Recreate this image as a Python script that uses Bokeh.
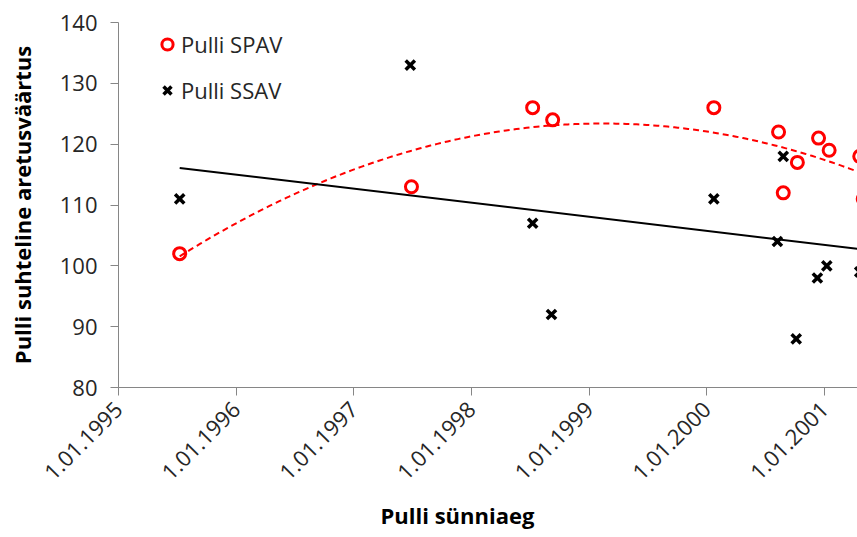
import numpy as np
from bokeh.plotting import figure
from bokeh.models import FixedTicker, Legend, LegendItem, Title
from bokeh.embed import file_html
from bokeh.resources import INLINE

# Birth dates (decimal years) and relative breeding values
spav_date = [1995.52, 1997.49, 1998.52, 1998.69, 2000.06, 2000.61, 2000.65, 2000.77, 2000.95, 2001.04, 2001.30, 2001.33]
spav_value = [102, 113, 126, 124, 126, 122, 112, 117, 121, 119, 118, 111]
ssav_date = [1995.52, 1997.48, 1998.52, 1998.68, 2000.06, 2000.60, 2000.65, 2000.76, 2000.94, 2001.02, 2001.30]
ssav_value = [111, 133, 107, 92, 111, 104, 118, 88, 98, 100, 99]

# Trendlines
spav_trend_date = [1995.52, 1996.77, 1998.30, 1999.38, 2000.23, 2000.65, 2001.08, 2001.28]
spav_trend_value = [101.8, 113.7, 122.2, 123.35, 121.7, 119.5, 117.0, 115.1]
ssav_trend_date = [1995.52, 2001.28]
ssav_trend_value = [116.1, 102.8]

year_ticks = [1995, 1996, 1997, 1998, 1999, 2000, 2001, 2002]
year_labels = ["1.01.1995", "1.01.1996", "1.01.1997", "1.01.1998", "1.01.1999",
               "1.01.2000", "1.01.2001", "1.01.2002"]
value_ticks = [80, 90, 100, 110, 120, 130, 140]

FONT = "Open Sans"

p = figure(width=857, height=537, output_backend="svg", toolbar_location=None,
           x_range=(1995.0, 2001.281), y_range=(80, 140),
           min_border_left=118, min_border_top=22, min_border_right=0,
           min_border_bottom=150)
p.xgrid.visible = False
p.ygrid.visible = False
p.outline_line_color = None
p.background_fill_color = "white"
p.border_fill_color = "white"

# trendlines
coef = np.polyfit(spav_trend_date, spav_trend_value, 2)
xs = np.linspace(spav_date[0], max(spav_date), 200)
p.line(xs, np.polyval(coef, xs), line_color="#ff0000", line_width=2, line_dash="6 4")
p.line(ssav_trend_date, ssav_trend_value, line_color="#000000", line_width=2)

r1 = p.scatter(spav_date, spav_value, marker="circle", size=12, fill_color=None,
               line_color="#ff0000", line_width=3)
r2 = p.scatter(ssav_date, ssav_value, marker="x", size=13, line_color="#000000",
               line_width=3.5)

for ax in (p.xaxis[0], p.yaxis[0]):
    ax.axis_line_color = "#868686"
    ax.major_tick_line_color = "#868686"
    ax.minor_tick_line_color = None
    ax.major_tick_in = 0
    ax.major_tick_out = 8
    ax.major_label_text_font = FONT
    ax.major_label_text_font_size = "22px"
    ax.major_label_text_color = "#262626"
    ax.axis_label_text_font = FONT
    ax.axis_label_text_font_size = "22px"
    ax.axis_label_text_font_style = "bold"
    ax.axis_label_text_color = "#000000"

p.xaxis.ticker = FixedTicker(ticks=year_ticks)
p.xaxis.major_label_overrides = dict(zip(year_ticks, year_labels))
p.xaxis.major_label_orientation = np.pi / 4
p.xaxis.major_label_standoff = 10

xtitle = Title(text="Pulli sünniaeg", align="left", offset=262, standoff=15,
               text_font=FONT, text_font_size="22px", text_font_style="bold",
               text_color="#000000")
p.add_layout(xtitle, "below")

p.yaxis.ticker = FixedTicker(ticks=value_ticks)
p.yaxis.major_label_standoff = 13
p.yaxis.axis_label = "Pulli suhteline aretusväärtus"
p.yaxis.axis_label_standoff = 20

legend = Legend(items=[LegendItem(label="Pulli SPAV", renderers=[r1]),
                       LegendItem(label="Pulli SSAV", renderers=[r2])],
                location=(35, 281), padding=0, margin=0, spacing=14,
                glyph_width=28, glyph_height=32, label_height=32, label_standoff=0,
                border_line_color=None, background_fill_alpha=0,
                label_text_font=FONT, label_text_font_size="22px",
                label_text_color="#262626")
p.add_layout(legend, "center")

open("out.html", "w").write(file_html(p, INLINE))
